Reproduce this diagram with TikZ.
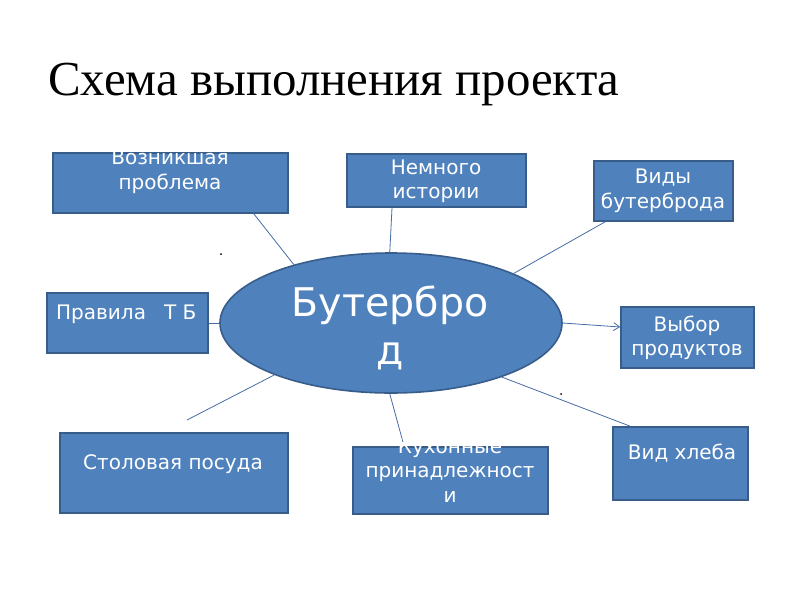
\documentclass[tikz,border=0pt]{standalone}
\usepackage{fontspec}
\setmainfont{Liberation Serif}
\newfontfamily\boxfont{DejaVu Sans}
\usetikzlibrary{shapes.geometric,arrows.meta}
\definecolor{boxfill}{RGB}{79,129,189}
\definecolor{boxedge}{RGB}{56,93,138}
\definecolor{connclr}{RGB}{70,108,165}
\tikzset{
  box/.style={draw=boxedge, fill=boxfill, line width=1.6pt, inner sep=0pt, rectangle},
  ellbox/.style={draw=boxedge, fill=boxfill, line width=1.6pt, inner sep=0pt, ellipse},
  txt/.style={text=white, inner sep=0pt, align=center, font=\boxfont\fontsize{20}{24.5}\selectfont},
  bigtxt/.style={text=white, inner sep=0pt, align=center, font=\boxfont\fontsize{39.5}{48}\selectfont},
  conn/.style={draw=connclr, line width=0.8pt},
  speck/.style={fill=black, circle, inner sep=0pt, minimum size=2pt}
}
\begin{document}
\begin{tikzpicture}[x=1pt,y=-1pt]
\useasboundingbox (0,0) rectangle (800,600);
% title
\node[anchor=base west, inner sep=0pt, font=\fontsize{48.9}{56}\selectfont] (title) at (48,95) {Схема выполнения проекта};
% boxes
\node[box, minimum width=235pt, minimum height=60pt] (b1) at (170.5,183) {};
\node[box, minimum width=179pt, minimum height=53pt] (b2) at (436.5,180.5) {};
\node[box, minimum width=139pt, minimum height=60pt] (b3) at (663.5,191) {};
\node[box, minimum width=161pt, minimum height=60pt] (b4) at (127.5,323) {};
\node[box, minimum width=133pt, minimum height=61pt] (b6) at (687.5,337.5) {};
\node[box, minimum width=228pt, minimum height=80pt] (b7) at (174,473) {};
\node[box, minimum width=195pt, minimum height=67pt] (b8) at (450.5,480.5) {};
\node[box, minimum width=135pt, minimum height=73pt] (b9) at (680.5,463.5) {};
\node[ellbox, minimum width=342pt, minimum height=140pt] (ell) at (391,323) {};
% connectors
\coordinate (free) at (187,420);
\draw[conn] ([xshift=-35pt]b1.south east) -- (ell.149);
\draw[conn] ([xshift=-44.5pt]b2.south) -- (ell.91);
\draw[conn] ([xshift=12pt]b3.south west) -- (ell.22);
\draw[conn] (b4.east) -- (ell.west);
\draw[conn, -{Straight Barb[length=6pt,width=8pt]}] (ell.east) -- ([yshift=10.5pt]b6.west);
\draw[conn] (ell.204) -- (free);
\draw[conn] (ell.269) -- ([xshift=-47.5pt,yshift=4pt]b8.north);
\draw[conn] (ell.334) -- ([xshift=18pt]b9.north west);
% specks
\node[speck] (s1) at (221,254) {};
\node[speck] (s2) at (561,394) {};
% texts
\node[txt] (t1) at (170,172) {Возникшая\\проблема};
\node[txt] (t2) at (436,181.5) {Немного\\истории};
\node[txt] (t3) at (663,191) {Виды\\бутерброда};
\node[txt, anchor=west] (t4) at (56,314) {Правила\hspace{18pt}Т Б};
\node[bigtxt] (t5) at (390,328) {Бутербро\\д};
\node[txt] (t6) at (687,338) {Выбор\\продуктов};
\node[txt] (t7) at (173,464) {Столовая посуда};
\node[txt] (t8) at (450,470.5) {Кухонные\\принадлежност\\и};
\node[txt] (t9) at (682,453) {Вид хлеба};
\end{tikzpicture}
\end{document}
